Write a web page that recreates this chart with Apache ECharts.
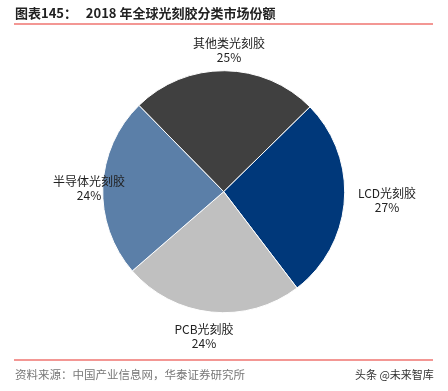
<!DOCTYPE html>
<html><head><meta charset="utf-8">
<script src="https://cdn.jsdelivr.net/npm/echarts@6/dist/echarts.min.js"></script>
<style>html,body{margin:0;padding:0;background:#fff}#c{width:448px;height:391px}</style>
</head><body><div id="c"></div>
<script>
var categories = ['其他类光刻胶', 'LCD光刻胶', 'PCB光刻胶', '半导体光刻胶'];
var values = [25, 27, 24, 24];
var colors = ['#404040', '#00387a', '#c0c0c0', '#5b7fa8'];
var titleText = '图表145：   2018 年全球光刻胶分类市场份额';
var sourceText = '资料来源：中国产业信息网，华泰证券研究所';
var watermark = '头条 @未来智库';

// label anchor points (centre of each two-line label)
var labelAnchors = [[229, 50], [387, 200], [204, 336], [89, 188]];

var chart = echarts.init(document.getElementById('c'));
var font = '"Noto Sans CJK SC", "Liberation Sans", sans-serif';
chart.setOption({
  animation: false,
  backgroundColor: '#fff',
  graphic: [
    {type:'text', left:15, top:7, style:{text:titleText, font:'bold 13px ' + font, fill:'#222'}},
    {type:'line', shape:{x1:14,y1:24,x2:433,y2:24}, style:{stroke:'#e8312a', lineWidth:1.2}},
    {type:'line', shape:{x1:14,y1:360,x2:433,y2:360}, style:{stroke:'#e8312a', lineWidth:1.2}},
    {type:'text', left:15, top:369, style:{text:sourceText, font:'11.5px ' + font, fill:'#777'}},
    {type:'text', left:355, top:369, style:{text:watermark, font:'11px ' + font, fill:'#333'}}
  ],
  series: [{
    type: 'pie',
    center: [223.7, 191.7],
    radius: [0, 121],
    startAngle: 134.5,
    clockwise: true,
    avoidLabelOverlap: false,
    data: categories.map(function(n,i){return {name:n, value:values[i], itemStyle:{color:colors[i]}};}),
    itemStyle: {borderColor:'#fff', borderWidth:1},
    label: {
      show: true,
      position: 'outside',
      overflow: 'none',
      width: 120,
      formatter: function(p){return p.name + '\n' + p.value + '%';},
      fontFamily: font,
      fontSize: 12,
      lineHeight: 14,
      color: '#222'
    },
    labelLine: {show:false},
    labelLayout: function(p){
      var a = labelAnchors[p.dataIndex];
      return {x: a[0], y: a[1], align: 'center', verticalAlign: 'middle'};
    }
  }]
});
</script></body></html>
